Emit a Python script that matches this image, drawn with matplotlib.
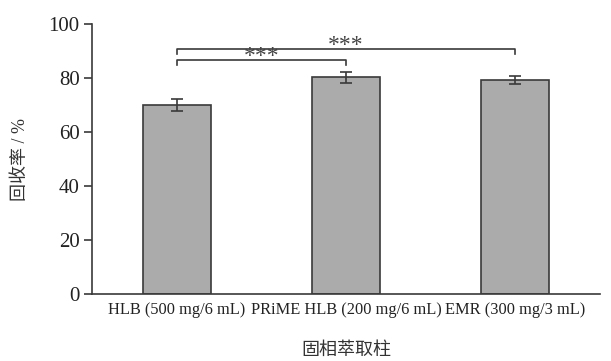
import matplotlib.pyplot as plt
import numpy as np

# Recovery of each SPE cartridge
columns = ['HLB (500 mg/6 mL)', 'PRiME HLB (200 mg/6 mL)', 'EMR (300 mg/3 mL)']
recovery = [70.0, 80.2, 79.2]
recovery_sd = [2.2, 2.2, 1.4]

# Significance brackets: (left index, right index, bracket height, label)
brackets = [(0, 1, 86.5, '***'), (0, 2, 90.6, '***')]

plt.rcParams['font.family'] = ['Liberation Serif', 'Noto Sans CJK SC']
line_col = '#3a3a3a'

fig = plt.figure(figsize=(6.11, 3.61), dpi=100)
ax = fig.add_axes([0.1506, 0.1856, 0.8314, 0.7479])

x = np.arange(len(columns))
ax.bar(x, recovery, width=0.4, color='#ababab', edgecolor=line_col, linewidth=1.2, zorder=2)
ax.errorbar(x, recovery, yerr=recovery_sd, fmt='none', ecolor=line_col,
            elinewidth=1.2, capsize=4, capthick=1.2, zorder=3)

# Significance brackets
for i, j, h, lab in brackets:
    ax.plot([x[i], x[i], x[j], x[j]], [h - 1.8, h, h, h - 1.8], color=line_col, lw=1.2)
    ax.text((x[i] + x[j]) / 2, h + 1.4, lab, ha='center', va='center',
            fontsize=17, color='#444444')

ax.set_xlim(-0.5, 2.5)
ax.set_ylim(0, 100)
ax.set_yticks([0, 20, 40, 60, 80, 100])
ax.set_xticks(x)
ax.set_xticklabels(columns)

for side in ['top', 'right']:
    ax.spines[side].set_visible(False)
for side in ['left', 'bottom']:
    ax.spines[side].set_color(line_col)
    ax.spines[side].set_linewidth(1.2)

ax.tick_params(axis='y', direction='out', length=6, width=1.2, color=line_col,
               labelsize=15, pad=3, labelcolor='#222222')
ax.tick_params(axis='x', direction='in', length=6, width=1.2, color=line_col,
               labelsize=11.8, pad=6, labelcolor='#222222')

ax.set_ylabel('回收率 / %', fontsize=13, color='#333333', labelpad=14)
ax.set_xlabel('固相萃取柱', fontsize=13, color='#333333', labelpad=17)

fig.savefig('out.png', dpi=100)
